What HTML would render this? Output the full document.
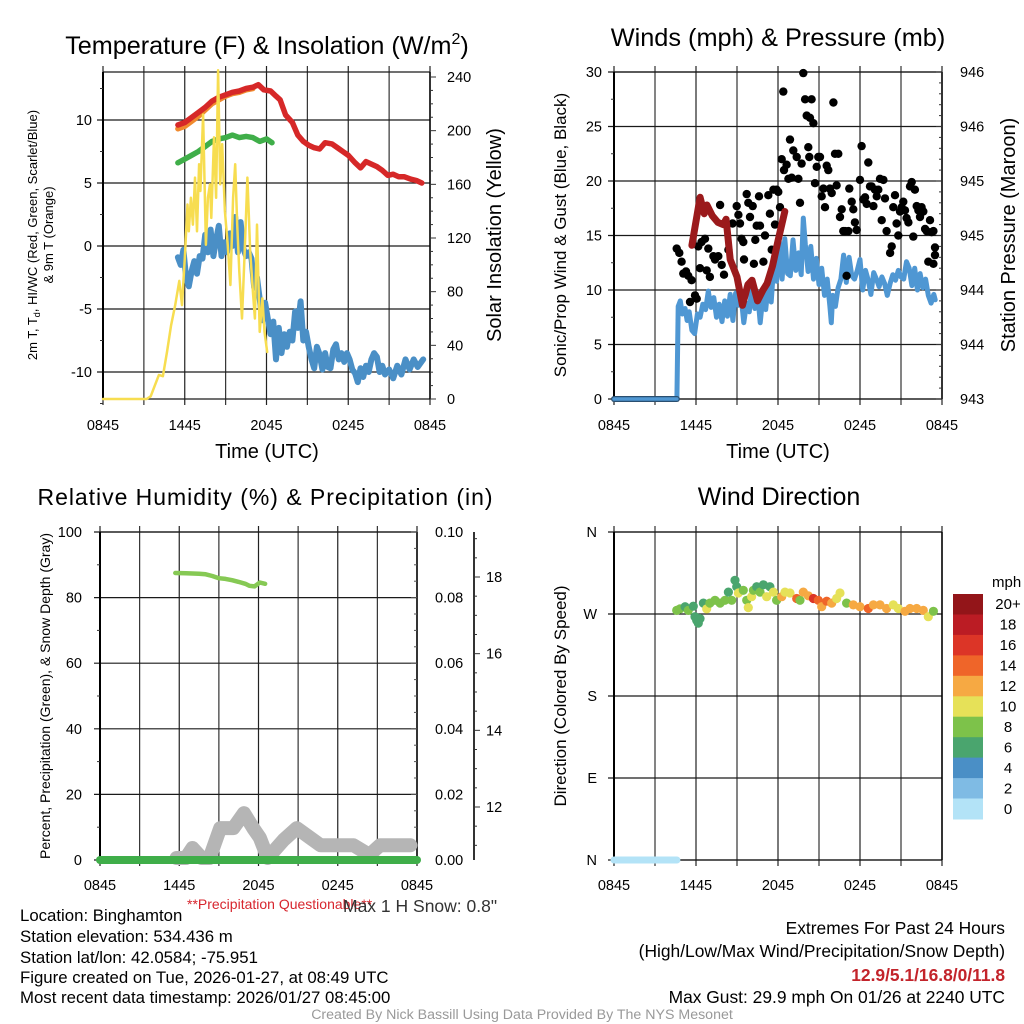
<!DOCTYPE html>
<html><head><meta charset="utf-8"><title>Mesonet Meteogram</title>
<style>
html,body{margin:0;padding:0;background:#fff;}
svg{display:block;font-family:"Liberation Sans",Arial,sans-serif;}
</style></head>
<body>
<svg id="chart" xmlns="http://www.w3.org/2000/svg" width="1024" height="1024" viewBox="0 0 1024 1024">
<rect x="0" y="0" width="1024" height="1024" fill="#fff"/>
<text x="267" y="54" text-anchor="middle" font-size="25.2">Temperature (F) &amp; Insolation (W/m<tspan font-size="16" dy="-10">2</tspan><tspan dy="10">)</tspan></text>
<text x="778" y="46" text-anchor="middle" font-size="25.3">Winds (mph) &amp; Pressure (mb)</text>
<text x="265" y="505" text-anchor="middle" font-size="23" textLength="455">Relative Humidity (%) &amp; Precipitation (in)</text>
<text x="779" y="505" text-anchor="middle" font-size="25">Wind Direction</text>
<text x="267" y="458" text-anchor="middle" font-size="20">Time (UTC)</text>
<text x="778" y="458" text-anchor="middle" font-size="20">Time (UTC)</text>
<text transform="translate(37,235) rotate(-90)" text-anchor="middle" font-size="13">2m T, T<tspan font-size="9" dy="3">d</tspan><tspan dy="-3">, HI/WC (Red, Green, Scarlet/Blue)</tspan></text>
<text transform="translate(53,235) rotate(-90)" text-anchor="middle" font-size="13">&amp; 9m T (Orange)</text>
<text transform="translate(501,235) rotate(-90)" text-anchor="middle" font-size="20">Solar Insolation (Yellow)</text>
<text transform="translate(566,235) rotate(-90)" text-anchor="middle" font-size="17">Sonic/Prop Wind &amp; Gust (Blue, Black)</text>
<text transform="translate(1015,235) rotate(-90)" text-anchor="middle" font-size="20">Station Pressure (Maroon)</text>
<text transform="translate(50,696) rotate(-90)" text-anchor="middle" font-size="14">Percent, Precipitation (Green), &amp; Snow Depth (Gray)</text>
<text transform="translate(566,696) rotate(-90)" text-anchor="middle" font-size="17">Direction (Colored By Speed)</text>
<text x="992" y="587" font-size="15">mph</text>
<text x="187" y="909" font-size="14" fill="#d7262e">**Precipitation Questionable**</text>
<text x="343" y="912" font-size="17.5" fill="#333">Max 1 H Snow: 0.8"</text>
<g font-size="16.8">
<text x="20" y="921">Location: Binghamton</text>
<text x="20" y="942">Station elevation: 534.436 m</text>
<text x="20" y="963">Station lat/lon: 42.0584; -75.951</text>
<text x="20" y="983">Figure created on Tue, 2026-01-27, at 08:49 UTC</text>
<text x="20" y="1003">Most recent data timestamp: 2026/01/27 08:45:00</text>
</g>
<g font-size="17.4" text-anchor="end">
<text x="1005" y="934">Extremes For Past 24 Hours</text>
<text x="1005" y="957">(High/Low/Max Wind/Precipitation/Snow Depth)</text>
<text x="1005" y="981" font-weight="bold" fill="#c3242b">12.9/5.1/16.8/0/11.8</text>
<text x="1005" y="1003">Max Gust: 29.9 mph On 01/26 at 2240 UTC</text>
</g>
<text x="522" y="1019" text-anchor="middle" font-size="14.2" fill="#999">Created By Nick Bassill Using Data Provided By The NYS Mesonet</text>
<g id="layer"></g>
</svg>
<script>
// ---------- DATA ----------
const timeTicks = ["0845","1445","2045","0245","0845"];
const tempTicks = [-10,-5,0,5,10];
const solarTicks = [0,40,80,120,160,200,240];
const windTicks = [0,5,10,15,20,25,30];
const pressTickLabels = ["943","944","944","945","945","946","946"];
const rhTicks = [0,20,40,60,80,100];
const precipTickLabels = ["0.00","0.02","0.04","0.06","0.08","0.10"];
const snowTicks = [12,14,16,18];
const dirTickLabels = ["N","E","S","W","N"];
const speedBins = ["0","2","4","6","8","10","12","14","16","18","20+"];
const speedColors = ["#b3e3f7","#7fbbe4","#4a8fc6","#4aa56e","#7dc24a","#e6e158","#f6a943","#ef6529","#dc3527","#bb1c24","#931519"];

const tempTimes = [5.5,6.0,6.5,7.0,7.5,8.0,8.5,9.0,9.5,10.0,10.5,11.0,11.4,11.8,12.3,12.7,13.0,13.4,13.9,14.3,14.7,15.1,15.5,15.9,16.3,16.8,17.2,17.6,18.0,18.5,18.9,19.3,19.7,20.1,20.5,20.9,21.3,21.7,22.1,22.6,23.0,23.4];
const tempValues = [9.6,9.8,10.2,10.6,11.0,11.5,11.8,12.0,12.2,12.3,12.5,12.6,12.8,12.4,12.3,11.9,11.6,10.4,9.8,8.8,8.3,8.0,7.8,7.7,8.2,8.1,7.8,7.5,7.2,6.6,6.2,6.7,6.5,6.3,6.0,5.6,5.7,5.5,5.5,5.3,5.2,5.0];
const t9Times = [5.5,6.0,6.5,7.0,7.5,8.0,8.5,9.0,9.5,10.0,10.5,11.0];
const t9Values = [9.3,9.5,9.9,10.3,10.8,11.3,11.6,11.9,12.1,12.2,12.4,12.5];
const dewTimes = [5.5,6.0,6.5,7.0,7.5,8.0,8.5,9.0,9.5,10.0,10.5,11.0,11.5,12.0,12.4];
const dewValues = [6.6,6.9,7.2,7.5,7.9,8.3,8.5,8.6,8.8,8.6,8.7,8.6,8.3,8.5,8.2];
const wcTimes = [5.5,5.7,5.9,6.1,6.3,6.5,6.7,6.9,7.1,7.3,7.5,7.7,7.9,8.1,8.3,8.5,8.7,8.9,9.1,9.3,9.5,9.7,9.9,10.1,10.3,10.5,10.7,10.9,11.1,11.3,11.5,11.7,11.9,12.1,12.3,12.5,12.7,12.9,13.1,13.3,13.5,13.7,13.9,14.1,14.3,14.5,14.7,14.9,15.1,15.3,15.5,15.7,15.9,16.1,16.3,16.5,16.7,16.9,17.1,17.3,17.5,17.7,17.9,18.1,18.3,18.5,18.7,18.9,19.1,19.3,19.5,19.7,19.9,20.1,20.3,20.5,20.7,21.0,21.3,21.6,21.9,22.2,22.5,22.8,23.1,23.5];
const wcValues = [-0.9,-1.5,-0.3,-2.5,-3.2,-2.0,-1.2,-2.2,-0.8,-1.0,0.9,-0.5,1.3,-0.8,0.5,1.6,-0.8,0.3,-0.5,1.0,0.0,2.3,-0.5,1.9,-0.2,-0.8,-0.5,-1.0,-3.3,-2.5,-4.2,-5.9,-4.5,-5.8,-7.0,-6.0,-9.0,-6.5,-8.5,-7.0,-8.0,-6.8,-7.5,-5.2,-6.5,-4.4,-7.5,-6.8,-8.0,-9.0,-9.7,-8.0,-8.6,-9.8,-8.5,-9.6,-9.7,-8.2,-7.8,-9.0,-8.5,-9.2,-8.5,-9.0,-9.8,-10.1,-10.8,-9.7,-10.4,-9.5,-10.0,-9.0,-8.5,-8.8,-10.0,-9.5,-10.2,-9.8,-10.5,-9.5,-10.2,-9.0,-9.8,-9.0,-9.6,-9.0];
const solarTimes = [0,3.2,3.5,3.8,4.1,4.4,4.7,5.0,5.3,5.6,5.8,6.0,6.2,6.3,6.45,6.6,6.75,6.9,7.05,7.15,7.35,7.55,7.7,7.85,7.95,8.15,8.3,8.45,8.6,8.75,8.95,9.15,9.35,9.55,9.7,9.85,10.0,10.2,10.4,10.6,10.8,11.0,11.15,11.3,11.5,11.7,11.85,12.05];
const solarValues = [0,0,2,10,18,17,35,55,70,88,70,105,145,125,150,130,165,125,175,155,212,115,150,160,135,195,150,245,160,190,140,115,85,150,175,130,95,60,110,165,110,80,60,130,50,75,50,35];

const sustTimes = [0,4.6,4.7,4.85,5.0,5.2,5.35,5.5,5.7,5.9,6.1,6.3,6.5,6.7,6.9,7.1,7.3,7.5,7.7,7.9,8.1,8.3,8.5,8.7,8.9,9.1,9.3,9.5,9.7,9.9,10.1,10.3,10.5,10.7,10.9,11.1,11.3,11.5,11.7,11.9,12.1,12.3,12.5,12.7,12.9,13.1,13.3,13.5,13.7,13.85,14.0,14.2,14.4,14.6,14.8,15.0,15.2,15.4,15.6,15.8,15.9,16.0,16.2,16.4,16.6,16.8,17.0,17.2,17.4,17.6,17.8,18.0,18.2,18.4,18.6,18.8,19.0,19.2,19.4,19.6,19.8,20.0,20.2,20.4,20.6,20.8,21.0,21.2,21.4,21.6,21.8,22.0,22.2,22.4,22.6,22.8,23.0,23.2,23.4,23.5];
const sustValues = [0,0,8.5,9,7.8,8.3,7.2,8.0,6.3,6.0,7.8,7.5,8.7,8.2,9.9,8.4,9.3,7.5,8.7,7.1,9.0,7.6,9.6,7.2,9.7,8.6,9.4,7.0,8.8,8.0,10.5,8.3,9.8,7.0,9.5,8.2,10.6,8.9,12.5,10.8,14.4,11.0,14.7,11.5,11.3,14.6,11.8,13.4,11.4,16.6,14.2,11.7,14.0,11.0,12.9,10.5,12.0,9.5,11.0,8.5,7.0,9.5,8.5,10.2,11.0,13.2,10.7,13.0,11.3,11.0,11.8,12.8,10.0,11.8,10.9,9.6,11.6,11.0,10.3,11.2,10.6,9.5,10.6,11.4,10.9,11.8,11.2,11.0,12.6,12.0,10.4,12.0,10.0,11.5,10.2,11.0,9.5,8.8,9.6,9.1];
const gustTimes = [4.59,4.78,4.95,5.07,5.27,5.44,5.68,5.56,5.93,6.05,6.17,6.29,6.41,6.66,6.78,6.9,7.02,7.27,7.39,7.63,7.76,7.88,8.05,8.37,8.68,8.98,9.1,9.22,9.34,9.46,9.51,9.71,9.83,9.95,10.15,10.24,10.34,10.44,10.61,10.68,10.93,11.05,11.29,11.41,11.54,11.66,11.78,11.9,12.02,12.15,12.27,12.39,12.44,12.63,12.76,12.88,13.0,13.12,13.37,13.49,13.61,13.73,13.85,13.98,14.1,14.22,14.29,14.34,14.46,14.59,14.71,14.83,14.95,15.07,15.2,15.32,15.44,15.56,15.68,15.8,15.93,16.05,16.17,16.29,16.41,16.54,16.66,16.78,16.9,17.02,17.15,17.22,17.39,17.51,17.63,17.76,18.0,18.12,18.24,18.37,18.49,18.61,18.73,18.85,18.98,19.1,19.22,19.34,19.46,19.59,19.71,19.83,19.95,20.2,20.32,20.44,20.56,20.68,20.8,20.93,21.05,21.17,21.29,21.41,21.54,21.66,21.78,21.9,22.02,22.15,22.27,22.39,22.51,22.63,22.76,22.88,23.0,23.12,23.24,23.37,23.49,23.49,23.37];
const gustValues = [13.8,13.4,12.6,11.5,11.7,11.3,10.9,8.9,9.5,9.2,14.0,12.0,14.4,14.7,11.8,13.8,11.2,13.1,12.8,13.1,17.8,12.3,11.4,13.7,16.1,17.7,16.9,16.1,14.7,14.4,12.8,18.8,18.0,16.7,17.7,12.4,14.6,15.9,18.6,15.9,12.6,15.0,18.7,17.0,13.7,19.2,16.0,19.2,19.0,17.6,22.0,28.2,21.0,21.5,20.2,23.8,20.3,22.8,22.2,20.2,18.0,21.6,29.9,27.5,26.0,23.1,22.2,25.8,27.5,25.3,19.8,21.3,22.2,22.2,18.6,19.3,17.6,21.4,21.0,19.3,18.9,27.2,22.5,19.6,22.5,16.7,17.4,15.4,15.4,11.3,15.4,19.3,18.1,17.4,16.2,15.5,20.1,23.2,18.3,18.5,17.9,21.7,19.5,19.5,17.7,19.2,18.6,19.2,20.2,16.4,20.1,18.4,15.4,13.4,14.0,17.6,18.7,16.1,15.0,17.2,17.6,18.1,17.3,16.6,16.2,19.5,19.9,14.9,19.2,17.7,17.3,16.7,17.6,17.2,15.6,15.4,12.6,16.4,15.3,12.4,13.2,13.9,15.4];
const pressTimes = [5.7,6.3,6.6,6.8,7.2,7.6,8.0,8.2,8.5,9.0,9.4,9.8,10.1,10.5,10.9,11.2,11.6,12.0,12.5];
const pressValues = [944.41,944.85,944.7,944.78,944.68,944.62,944.6,944.65,944.28,944.12,943.86,944.05,944.09,943.9,944.0,944.06,944.22,944.45,944.72];

const rhTimes = [5.7,6.5,7.5,8.0,8.5,9.0,9.5,10.0,10.5,11.0,11.3,11.7,12.1,12.5];
const rhValues = [87.5,87.4,87.3,87.1,86.6,85.9,85.7,85.3,84.8,84.2,83.6,83.4,84.6,84.2];
const precipTimes = [0,24];
const precipValues = [0,0];
const snowTimes = [5.8,6.5,7.0,7.7,8.3,9.1,10.1,10.9,11.6,12.1,12.7,13.9,14.9,15.9,16.7,19.2,20.4,21.2,23.5];
const snowValues = [10.67,10.67,10.93,10.67,10.67,11.45,11.45,11.84,11.45,11.2,10.67,11.14,11.45,11.2,11.0,11.0,10.75,11.0,11.0];

const dirTimes = [4.59,4.83,5.2,5.44,5.8,5.93,6.05,6.17,6.29,6.54,6.78,7.02,7.39,7.76,8.12,8.37,8.61,8.85,8.98,9.1,9.46,9.71,9.83,10.07,10.2,10.44,10.68,10.93,11.17,11.41,11.66,11.9,12.27,12.51,12.88,13.37,13.61,13.85,14.22,14.59,14.95,15.2,15.56,15.93,16.29,16.54,17.02,17.51,18.0,18.61,18.98,19.46,19.95,20.44,20.8,21.29,21.66,22.15,22.63,23.0,23.37];
const dirValues = [274,275.6,278,274,278.6,267,263,260,265,282,275.6,282,285,282,285,294,285,307,300,293,296,285,277,289,296,300,294,302,289,300,294,285,289,294,293,287,285,294,290,287,285,278,284,282,287,293,282,280,278,276,280,280,276,280,276,273,276,276,274,267,273];
const dirSpeeds = [8.5,8.5,6.5,8.5,6.5,6.5,6.5,6.5,6.5,6.5,10.5,8.5,8.5,8.5,8.5,6.5,8.5,6.5,6.5,10.5,8.5,8.5,10.5,10.5,8.5,6.5,8.5,6.5,10.5,6.5,10.5,8.5,12.5,10.5,10.5,14.5,8.5,12.5,12.5,16.5,14.5,12.5,14.5,12.5,10.5,10.5,8.5,12.5,12.5,14.5,12.5,12.5,12.5,10.5,10.5,12.5,12.5,12.5,12.5,10.5,8.5];
const calmTimes = [0,4.6];
const calmDirs = [0,0];

// ---------- RENDER ----------
const NS = "http://www.w3.org/2000/svg";
const layer = document.getElementById("layer");
function mk(tag, parent){ const e = document.createElementNS(NS, tag); parent.appendChild(e); return e; }
function grp(name){ const g = mk("g", layer);
  
  
  return g; }
function line(g,x1,y1,x2,y2,stroke,w,name){ const l = mk("line", g);
  l.setAttribute("x1",x1); l.setAttribute("y1",y1); l.setAttribute("x2",x2); l.setAttribute("y2",y2);
  l.setAttribute("stroke",stroke); l.setAttribute("stroke-width",w);
  
  
  return l; }
function txt(g,x,y,s,anchor,size,name){ const t = mk("text", g);
  t.setAttribute("x",x); t.setAttribute("y",y); t.setAttribute("text-anchor",anchor); t.setAttribute("font-size",size);
  t.textContent = s;
  
  
  return t; }
function path(g,xs,ys,xf,yf,color,w,name){ const p = mk("path", g);
  let d = "";
  for (let i=0;i<xs.length;i++){ d += (i?"L":"M") + xf(xs[i]).toFixed(1) + "," + yf(ys[i]).toFixed(1); }
  p.setAttribute("d", d); p.setAttribute("fill","none"); p.setAttribute("stroke",color);
  p.setAttribute("stroke-width",w); p.setAttribute("stroke-linejoin","round"); p.setAttribute("stroke-linecap","round");
  
  
  return p; }
function dot(g,cx,cy,r,fill,name){ const c = mk("circle", g);
  c.setAttribute("cx",cx.toFixed(1)); c.setAttribute("cy",cy.toFixed(1)); c.setAttribute("r",r); c.setAttribute("fill",fill);
  
  
  return c; }
function lin(d0,d1,p0,p1){ return v => p0 + (v-d0)/(d1-d0)*(p1-p0); }

function frame(g, P, hVals, hScale, prefix){
  const gc = "#1a1a1a";
  for (let i=0;i<=8;i++){ const x = P.x0 + i*(P.x1-P.x0)/8;
    line(g,x,P.y0-6,x,P.y1+6,i%2? "#333":"#222",1.2,prefix+"-vgrid"); }
  hVals.forEach(v => line(g,P.x0-6,hScale(v),P.x1,hScale(v),gc,1.2,prefix+"-hgrid"));
  line(g,P.x0,P.y0,P.x1,P.y0,gc,1.3,prefix+"-top-border");
  line(g,P.x0,P.y1,P.x1,P.y1,gc,1.3,prefix+"-bottom-border");
  line(g,P.x0,P.y0,P.x0,P.y1,"#000",2,prefix+"-left-spine");
  line(g,P.x1,P.y0,P.x1,P.y1,"#000",1.5,prefix+"-right-spine");
  timeTicks.forEach((s,i)=> txt(g,P.x0+i*(P.x1-P.x0)/4,P.ty,s,"middle",14.5,prefix+"-time-tick-label"));
}

// ---- Panel 1: Temperature ----
{
  const P = {x0:103,x1:430,y0:72,y1:399,ty:430};
  const X = lin(0,24,P.x0,P.x1), Y = lin(-10,10,372,120), S = lin(0,240,399,77);
  const g = grp("temperature-panel");
  frame(g,P,tempTicks,Y,"temperature");
  tempTicks.forEach(v=> txt(g,92,Y(v)+5,String(v),"end",14.5,"temperature-y-tick-label"));
  for (let v=-12.5; v<=12.5; v+=2.5){ if (v%5!==0) line(g,P.x0-3,Y(v),P.x0,Y(v),"#333",1,"temperature-minor-tick"); }
  for (let v=0; v<=240; v+=10){ line(g,P.x1,S(v),P.x1+(v%40===0?6:3),S(v),"#333",1,"insolation-tick"); }
  solarTicks.forEach(v=> txt(g,447,S(v)+5,String(v),"start",14.5,"insolation-tick-label"));
  path(g,t9Times,t9Values,X,Y,"#f08a2e",5.5,"t9m-orange-line");
  path(g,tempTimes,tempValues,X,Y,"#d62828",5.5,"temperature-red-line");
  path(g,dewTimes,dewValues,X,Y,"#3fae49",5.5,"dewpoint-green-line");
  path(g,wcTimes,wcValues,X,Y,"#4a8fc6",6,"windchill-blue-line");
  path(g,solarTimes,solarValues,X,S,"#f7dd50",2.5,"insolation-yellow-line");
}
// ---- Panel 2: Winds & pressure ----
{
  const P = {x0:614,x1:942,y0:72,y1:399,ty:430};
  const X = lin(0,24,P.x0,P.x1), Y = lin(0,30,399,72), PR = lin(943,946,399,72);
  const g = grp("wind-panel");
  frame(g,P,windTicks,Y,"wind");
  windTicks.forEach(v=> txt(g,602,Y(v)+5,String(v),"end",14.5,"wind-y-tick-label"));
  for (let v=2.5; v<30; v+=5) line(g,P.x0-3,Y(v),P.x0,Y(v),"#333",1,"wind-minor-tick");
  for (let i=0;i<=30;i++){ const y = P.y1 - i*(P.y1-P.y0)/30; line(g,P.x1-(i%5===0?6:3),y,P.x1,y,"#333",1,"pressure-tick"); }
  pressTickLabels.forEach((s,i)=> txt(g,960,P.y1 - i*(P.y1-P.y0)/6 + 5,s,"start",14.5,"pressure-tick-label"));
  path(g,sustTimes,sustValues,X,Y,"#4f97d3",5,"sustained-wind-line");
  path(g,[0,4.6],[0,0],X,Y,"#2a4f70",6,"calm-wind-outline");
  path(g,[0,4.6],[0,0],X,Y,"#4f97d3",3.5,"calm-wind-line");
  gustTimes.forEach((t,i)=> dot(g,X(t),Y(gustValues[i]),4.2,"#000","gust-point"));
  path(g,pressTimes,pressValues,X,PR,"#9b1a1c",7,"pressure-maroon-line");
}
// ---- Panel 3: RH / precip / snow ----
{
  const P = {x0:100,x1:417,y0:532,y1:860,ty:890};
  const X = lin(0,24,P.x0,P.x1), Y = lin(0,100,860,532), SN = lin(12,18,807,577);
  const g = grp("humidity-panel");
  frame(g,P,rhTicks,Y,"humidity");
  rhTicks.forEach(v=> txt(g,82,Y(v)+5,String(v),"end",14.5,"humidity-y-tick-label"));
  for (let v=10; v<100; v+=20) line(g,P.x0-3,Y(v),P.x0,Y(v),"#333",1,"humidity-minor-tick");
  for (let v=0; v<=100; v+=5) line(g,P.x1-(v%20===0?6:3),Y(v),P.x1,Y(v),"#555",1,"precip-tick");
  precipTickLabels.forEach((s,i)=> txt(g,435,Y(i*20)+5,s,"start",14.5,"precip-tick-label"));
  line(g,474,532,474,860,"#333",2,"snow-depth-axis");
  for (let v=11; v<=19; v+=0.5) line(g,474,SN(v),474+(v%2===0?6:3),SN(v),"#333",1,"snow-depth-tick");
  snowTicks.forEach(v=> txt(g,486,SN(v)+5,String(v),"start",14.5,"snow-depth-tick-label"));
  path(g,snowTimes,snowValues,X,SN,"#b5b5b5",14,"snow-depth-gray-line");
  path(g,precipTimes,precipValues,X,Y,"#3fae49",8,"precip-green-line");
  path(g,rhTimes,rhValues,X,Y,"#86c954",4.5,"rh-green-line");
}
// ---- Panel 4: Wind direction ----
{
  const P = {x0:614,x1:942,y0:532,y1:860,ty:890};
  const X = lin(0,24,P.x0,P.x1), Y = lin(0,360,860,532);
  const g = grp("direction-panel");
  frame(g,P,[0,90,180,270,360],Y,"direction");
  dirTickLabels.forEach((s,i)=> txt(g,597,Y(i*90)+5,s,"end",14.5,"direction-tick-label"));
  path(g,calmTimes,calmDirs,X,Y,"#b3e3f7",7,"calm-direction-line");
  function colorFor(s){ const k = Math.min(10, Math.floor(s/2)); return speedColors[k]; }
  dirTimes.forEach((t,i)=> dot(g,X(t),Y(dirValues[i]),4.6,colorFor(dirSpeeds[i]),"direction-point"));
  const cb = grp("speed-colorbar");
  const h = (819-594)/speedBins.length;
  speedBins.forEach((s,i)=>{ const k = speedBins.length-1-i;
    const r = mk("rect", cb);
    r.setAttribute("x",953); r.setAttribute("y",(594+i*h).toFixed(1)); r.setAttribute("width",30); r.setAttribute("height",(h+0.5).toFixed(1));
    r.setAttribute("fill",speedColors[k]);
    
    
    txt(cb,1008,594+i*h+h/2+5,speedBins[k],"middle",15,"colorbar-label");
  });
}
</script>
</body></html>
